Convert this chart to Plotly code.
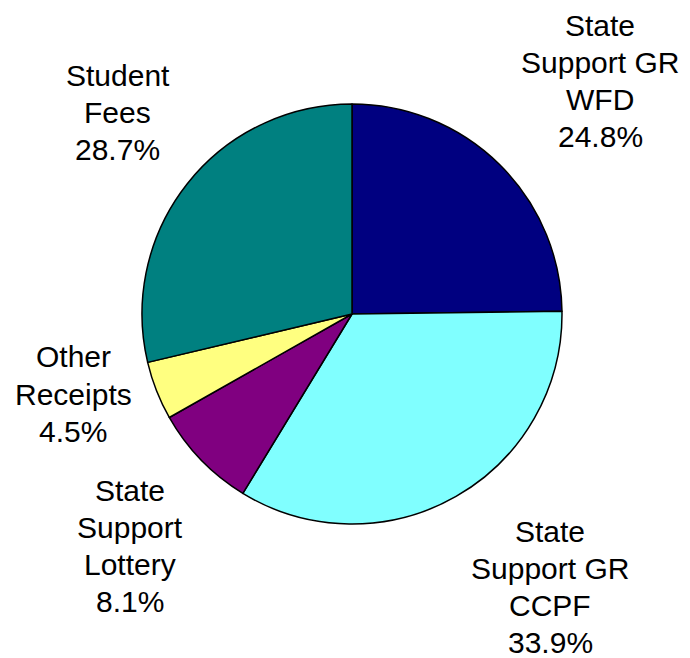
import plotly.graph_objects as go

# slice order: clockwise from 12 o'clock
labels = [
    "State\nSupport GR\nWFD",
    "State\nSupport GR\nCCPF",
    "State\nSupport\nLottery",
    "Other\nReceipts",
    "Student\nFees",
]
shares = [24.8, 33.9, 8.1, 4.5, 28.7]
colors = ["#000080", "#80FFFF", "#800080", "#FFFF80", "#008080"]

# label centre x and first-line y, in figure pixels
# (page body adds an 8px offset, so these sit 8px up/left of the target)
label_pos = [(592, 17), (542, 523), (122, 482), (65, 349), (110, 67)]
LINE_GAP = 37

W, H = 690, 658

fig = go.Figure(
    go.Pie(
        labels=[l.replace("\n", " ") for l in labels],
        values=shares,
        sort=False,
        direction="clockwise",
        rotation=0,
        marker=dict(colors=colors, line=dict(color="black", width=1.5)),
        textinfo="none",
        hoverinfo="label+percent",
        showlegend=False,
        domain=dict(x=[134 / W, 554 / W], y=[1 - 516 / H, 1 - 96 / H]),
    )
)

for lab, val, (px_, py_) in zip(labels, shares, label_pos):
    lines = lab.split("\n") + [f"{val:.1f}%"]
    for i, line in enumerate(lines):
        fig.add_annotation(
            x=px_ / W,
            y=1 - (py_ + i * LINE_GAP) / H,
            xref="paper",
            yref="paper",
            text=line,
            showarrow=False,
            borderpad=0,
            xanchor="center",
            yanchor="middle",
            font=dict(family="Liberation Sans, Arial, sans-serif", size=30, color="black"),
        )

fig.update_layout(
    width=W,
    height=H,
    margin=dict(l=0, r=0, t=0, b=0),
    paper_bgcolor="white",
    plot_bgcolor="white",
)

fig.write_html("out.html")
